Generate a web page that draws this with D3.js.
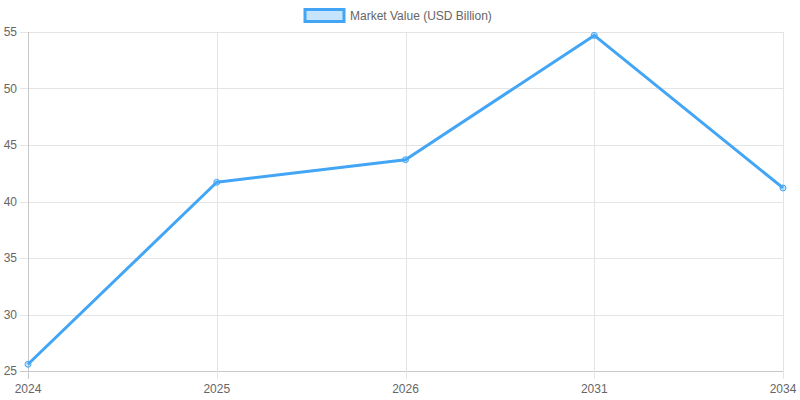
<!DOCTYPE html>
<html>
<head>
<meta charset="utf-8">
<script src="https://cdn.jsdelivr.net/npm/d3@7"></script>
<style>
    body { margin: 0; background: #fff; }
    svg { display: block; font-family: "Liberation Sans", Arial, sans-serif; }
</style>
</head>
<body>
<div id="chart"></div>
<script>
var years = ["2024", "2025", "2026", "2031", "2034"];
var marketValue = [25.6, 41.7, 43.7, 54.7, 41.2];
var yTicks = [25, 30, 35, 40, 45, 50, 55];
var seriesName = "Market Value (USD Billion)";

var width = 800,
    height = 400,
    margin = { top: 32, right: 17, bottom: 29, left: 28 };

var lineColor = "#42a5f5";

var svg = d3.select("#chart")
    .append("svg")
    .attr("width", width)
    .attr("height", height);

var x = d3.scalePoint()
    .domain(years)
    .range([margin.left, width - margin.right]);

var y = d3.scaleLinear()
    .domain([25, 55])
    .range([height - margin.bottom, margin.top]);

// horizontal grid
svg.append("g")
    .selectAll("line")
    .data(yTicks)
    .enter().append("line")
    .attr("x1", margin.left - 8)
    .attr("x2", width - margin.right)
    .attr("y1", function (d) { return Math.round(y(d)) + 0.5; })
    .attr("y2", function (d) { return Math.round(y(d)) + 0.5; })
    .style("stroke", function (d) { return d == 25 ? "#c8c8c8" : "#e4e4e4"; })
    .style("stroke-width", 1);

// vertical grid
svg.append("g")
    .selectAll("line")
    .data(years)
    .enter().append("line")
    .attr("x1", function (d) { return Math.round(x(d)) + 0.5; })
    .attr("x2", function (d) { return Math.round(x(d)) + 0.5; })
    .attr("y1", margin.top)
    .attr("y2", height - margin.bottom + 8)
    .style("stroke", function (d, i) { return i == 0 ? "#c8c8c8" : "#e4e4e4"; })
    .style("stroke-width", 1);

// y labels
svg.append("g")
    .selectAll("text")
    .data(yTicks)
    .enter().append("text")
    .attr("x", margin.left - 11)
    .attr("y", function (d) { return y(d); })
    .attr("dy", "0.35em")
    .attr("text-anchor", "end")
    .style("font-size", "12px")
    .style("fill", "#666")
    .text(function (d) { return d; });

// x labels
svg.append("g")
    .selectAll("text")
    .data(years)
    .enter().append("text")
    .attr("x", function (d) { return x(d); })
    .attr("y", height - margin.bottom + 22)
    .attr("text-anchor", "middle")
    .style("font-size", "12px")
    .style("fill", "#666")
    .text(function (d) { return d; });

var line = d3.line()
    .x(function (d, i) { return x(years[i]); })
    .y(function (d) { return y(d); });

svg.append("path")
    .datum(marketValue)
    .attr("d", line)
    .style("fill", "none")
    .style("stroke", lineColor)
    .style("stroke-width", 3)
    .style("stroke-linejoin", "round");

svg.append("g")
    .selectAll("circle")
    .data(marketValue)
    .enter().append("circle")
    .attr("cx", function (d, i) { return x(years[i]); })
    .attr("cy", function (d) { return y(d); })
    .attr("r", 3)
    .style("fill", "rgba(66,165,245,0.3)")
    .style("stroke", lineColor)
    .style("stroke-width", 1);

// legend
var legend = svg.append("g");
legend.append("rect")
    .attr("x", 305)
    .attr("y", 9.5)
    .attr("width", 39)
    .attr("height", 12)
    .style("fill", "rgba(66,165,245,0.3)")
    .style("stroke", lineColor)
    .style("stroke-width", 3);
legend.append("text")
    .attr("x", 350)
    .attr("y", 16)
    .attr("dy", "0.35em")
    .style("font-size", "12px")
    .style("fill", "#666")
    .text(seriesName);
</script>
</body>
</html>
